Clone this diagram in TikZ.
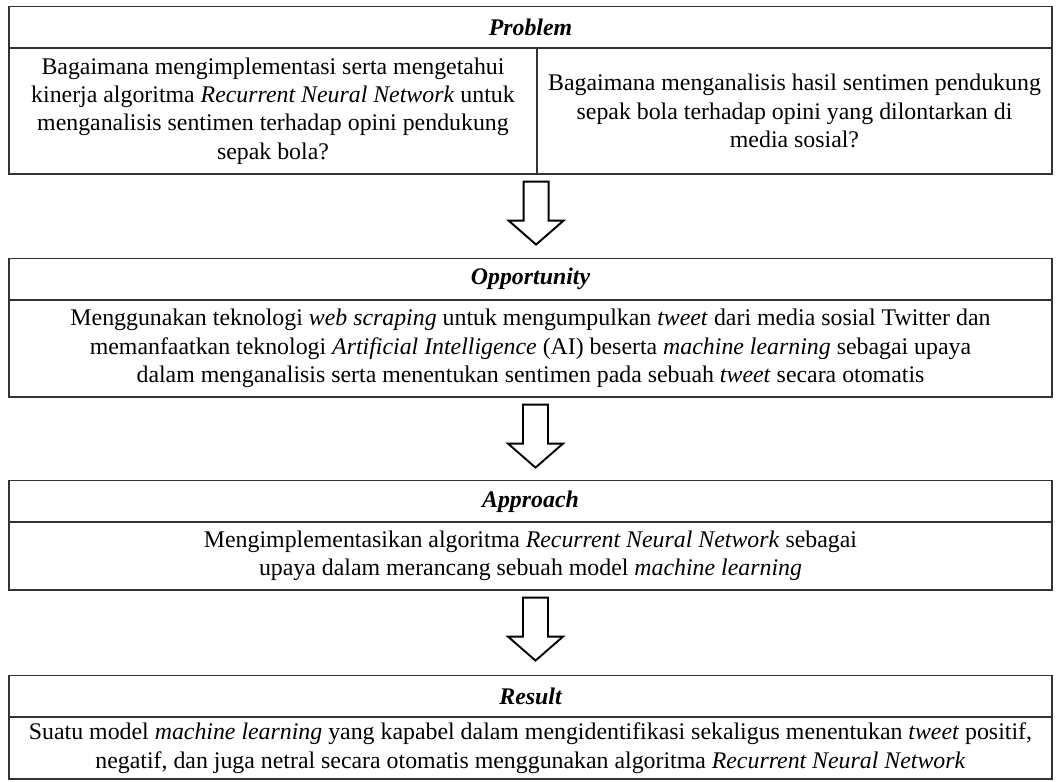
\documentclass[tikz,border=0pt]{standalone}
\usepackage{fontspec}
\setmainfont{Liberation Serif}
\usetikzlibrary{calc}

% block arrow between two boxes, #1 = top centre
\newcommand{\flowarrow}[1]{%
  \draw[blockarrow] #1 ++(-12.5,0) -- ++(0,39) -- ++(-15,0) -- ++(27.5,24)
    -- ++(27.5,-24) -- ++(-15,0) -- ++(0,-39) -- cycle;}

\begin{document}
\begin{tikzpicture}[x=0.52pt, y=-0.52pt,
  font=\fontsize{12.4}{14.8}\selectfont,
  cellbox/.style={rectangle, draw=black!80, line width=0.6pt, inner sep=0pt, align=center},
  headbox/.style={cellbox, minimum width=542.36pt, minimum height=21.6pt,
    font=\fontsize{12.4}{14.8}\selectfont\bfseries\itshape},
  bodybox/.style={cellbox, minimum width=542.36pt},
  blockarrow/.style={draw=black, line width=1pt, fill=white, line join=miter}]
  \useasboundingbox (0,0) rectangle (1059,781);
  % Nodes
  \node (probHead) [headbox] at (530.5, 27.5) {Problem};
  \node (probL) [cellbox, minimum width=274.56pt, minimum height=65.52pt] at (273, 111)
    {Bagaimana mengimplementasi serta mengetahui\\
     kinerja algoritma \textit{Recurrent Neural Network} untuk\\
     menganalisis sentimen terhadap opini pendukung\\
     sepak bola?};
  \node (probR) [cellbox, minimum width=267.8pt, minimum height=65.52pt] at (794.5, 111)
    {Bagaimana menganalisis hasil sentimen pendukung\\
     sepak bola terhadap opini yang dilontarkan di\\
     media sosial?};
  \node (oppHead) [headbox] at (530.5, 279) {Opportunity};
  \node (oppBody) [bodybox, minimum height=50.44pt] at (530.5, 348.5)
    {Menggunakan teknologi \textit{web scraping} untuk mengumpulkan \textit{tweet} dari media sosial Twitter dan\\
     memanfaatkan teknologi \textit{Artificial Intelligence} (AI) beserta \textit{machine learning} sebagai upaya\\
     dalam menganalisis serta menentukan sentimen pada sebuah \textit{tweet} secara otomatis};
  \node (appHead) [headbox] at (530.5, 501.5) {Approach};
  \node (appBody) [bodybox, minimum height=35.36pt] at (530.5, 556)
    {Mengimplementasikan algoritma \textit{Recurrent Neural Network} sebagai\\
     upaya dalam merancang sebuah model \textit{machine learning}};
  \node (resHead) [headbox] at (530.5, 696) {Result};
  \node (resBody) [bodybox, minimum height=32.24pt] at (530.5, 748)
    {Suatu model \textit{machine learning} yang kapabel dalam mengidentifikasi sekaligus menentukan \textit{tweet} positif,\\
     negatif, dan juga netral secara otomatis menggunakan algoritma \textit{Recurrent Neural Network}};
  % Arrow
  \flowarrow{($(probL.south east)+(-1.5,7)$)}
  \flowarrow{($(oppBody.south)+(5,7)$)}
  \flowarrow{($(appBody.south)+(5,7)$)}
\end{tikzpicture}
\end{document}
